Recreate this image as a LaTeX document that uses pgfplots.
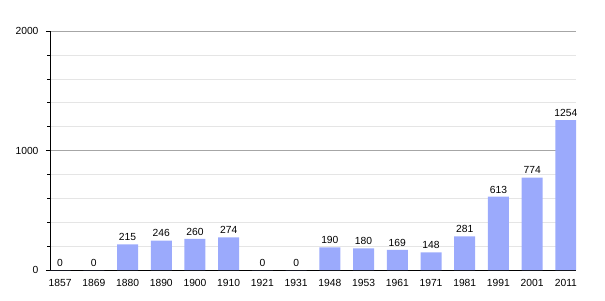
\documentclass[border=0pt]{standalone}
\usepackage{fontspec}
\setmainfont{Liberation Sans}
\usepackage{pgfplots}
\pgfplotsset{compat=1.18}
\definecolor{barblue}{RGB}{155,170,252}
\begin{document}
\begin{tikzpicture}
\useasboundingbox (-50pt,-30pt) rectangle (555pt,270pt);
\begin{axis}[
  at={(0,0)}, anchor=south west,
  scale only axis, width=526pt, height=239pt,
  xmin=-0.3, xmax=15.3, ymin=0, ymax=2000,
  axis x line*=bottom, axis y line*=left,
  axis line style={black, line width=0.8pt},
  ytick={0,1000,2000}, minor ytick={200,400,600,800,1200,1400,1600,1800},
  ymajorgrids, yminorgrids,
  major grid style={draw=black!35, line width=0.6pt},
  minor grid style={draw=black!10, line width=0.6pt},
  tick align=outside, major tick length=4pt, minor tick length=2.5pt,
  ytick style={black, line width=0.6pt},
  xtick={0,...,15},
  xticklabels={1857,1869,1880,1890,1900,1910,1921,1931,1948,1953,1961,1971,1981,1991,2001,2011},
  xtick style={draw=none},
  tick label style={font=\fontsize{10.3}{12}\selectfont},
  /pgf/number format/assume math mode=true,
  /pgf/number format/1000 sep={},
  yticklabel style={xshift=-4pt},
  xticklabel style={yshift=-1.5pt},
  ybar, bar width=21pt,
  nodes near coords,
  nodes near coords style={font=\fontsize{10.3}{12}\selectfont, /pgf/number format/assume math mode=true, /pgf/number format/1000 sep={}},
]
\addplot[fill=barblue, draw=none] coordinates {
(0,0) (1,0) (2,215) (3,246) (4,260) (5,274) (6,0) (7,0) (8,190) (9,180) (10,169) (11,148) (12,281) (13,613) (14,774) (15,1254)
};
\end{axis}
\end{tikzpicture}
\end{document}
